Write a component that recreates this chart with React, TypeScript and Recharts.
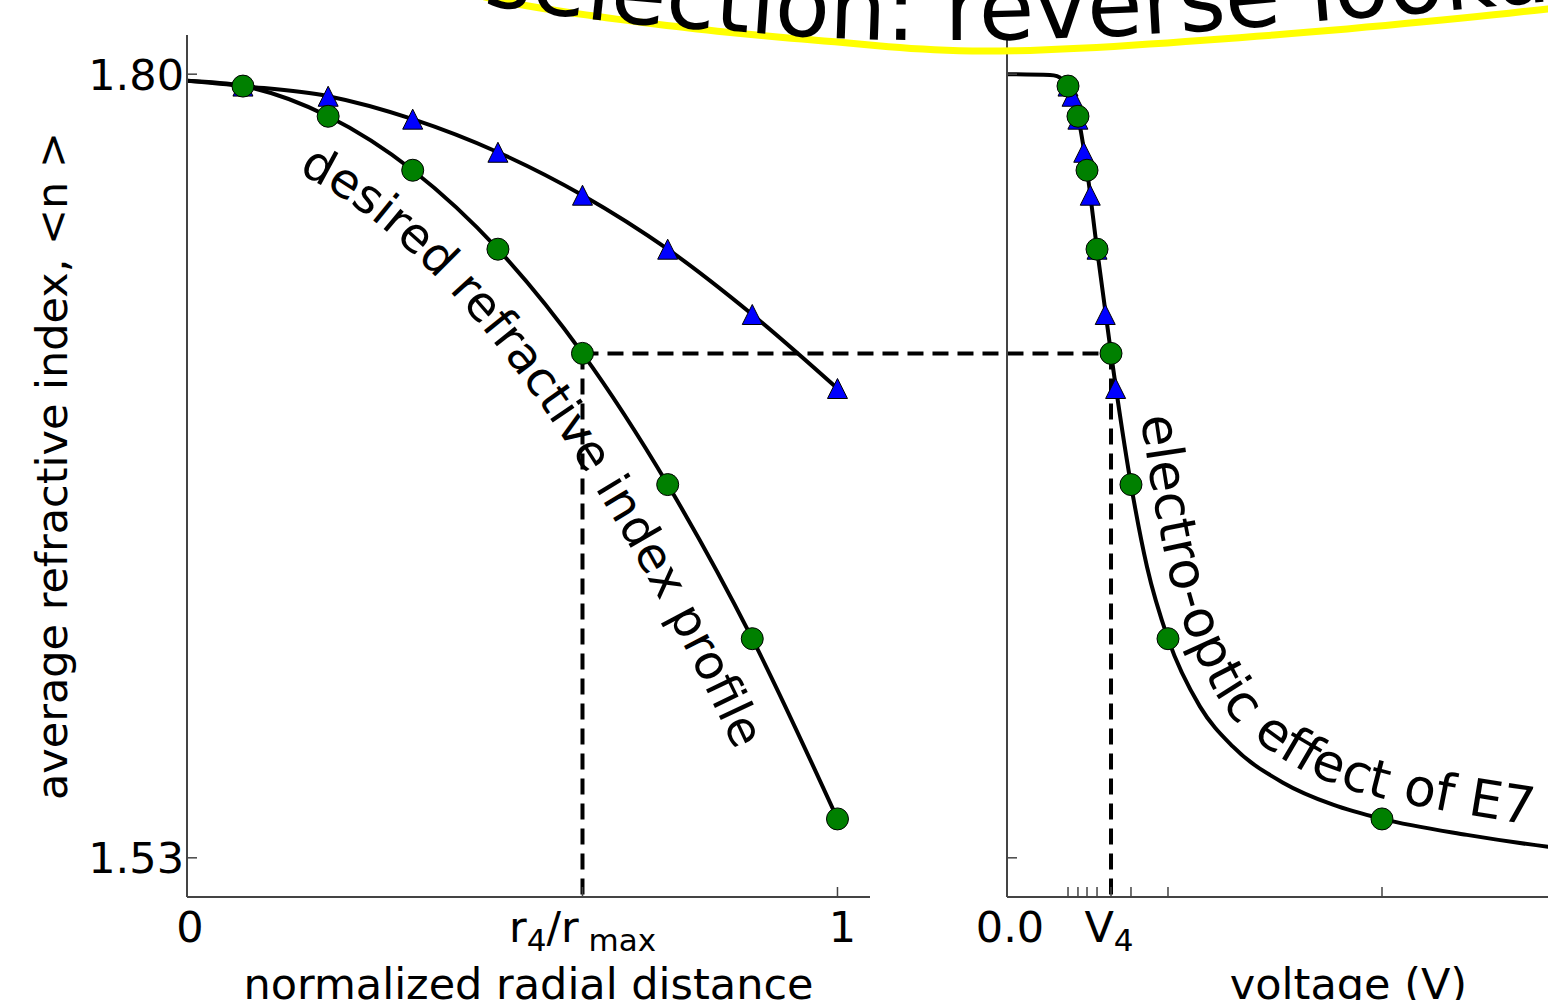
import React from 'react';
import { ComposedChart, Line, Scatter, XAxis, YAxis, ReferenceLine } from 'recharts';

// left panel: normalized radius of the sampled rings
const radius = [0.086, 0.217, 0.347, 0.478, 0.608, 0.739, 0.869, 1.0];
const desiredIndex = [1.7959, 1.7855, 1.7669, 1.7397, 1.7038, 1.6586, 1.6055, 1.5434];
const uniformIndex = [1.7959, 1.7924, 1.7845, 1.7731, 1.7583, 1.7397, 1.7172, 1.6917];
const centreIndex = 1.7977; // both profiles at r = 0

// right panel: E7 response and the voltages found by reverse lookup
const e7Volts = [0, 0.661, 0.769, 0.861, 0.938, 1.091, 1.23, 1.384, 1.599, 1.906, 2.152, 2.475, 2.967, 3.474, 4.243, 5.011, 5.765, 7.071, 8.317, 10];
const e7Index = [1.8, 1.7997, 1.7993, 1.7979, 1.7959, 1.7855, 1.7669, 1.7397, 1.7038, 1.6586, 1.6303, 1.6055, 1.5821, 1.5683, 1.5559, 1.5483, 1.5434, 1.5379, 1.5338, 1.53];
const voltsDesired = [0.938, 1.091, 1.23, 1.384, 1.599, 1.906, 2.475, 5.765];
const voltsUniform = [0.938, 1.0, 1.09, 1.18, 1.28, 1.384, 1.51, 1.67];

const yTicks = [1.53, 1.8];
const pick = 4; // ring r4 / voltage V4

const FONT = 'DejaVu Sans, sans-serif';
const AXIS = '#444';
const Y_DOMAIN: [number, number] = [1.5165, 1.8135];
const R_DOMAIN: [number, number] = [0, 1.05];
const V_DOMAIN: [number, number] = [0, 10.5];

// plot geometry (page pixels) used for the overlay annotations
const PLOT_TOP = 35;
const PLOT_H = 862;
const LEFT_X0 = 187;
const RIGHT_X0 = 1007;
const PLOT_W = 683;

const ny = (n: number) => PLOT_TOP + ((Y_DOMAIN[1] - n) / (Y_DOMAIN[1] - Y_DOMAIN[0])) * PLOT_H;
const lx = (r: number) => LEFT_X0 + (r / R_DOMAIN[1]) * PLOT_W;
const rx = (v: number) => RIGHT_X0 + (v / V_DOMAIN[1]) * PLOT_W;

type Pt = [number, number];

function smooth(pts: Pt[], steps = 16): Pt[] {
  const out: Pt[] = [];
  const f = (a: number, b: number, c: number, d: number, t: number) =>
    0.5 * (2 * b + (-a + c) * t + (2 * a - 5 * b + 4 * c - d) * t * t + (-a + 3 * b - 3 * c + d) * t * t * t);
  for (let i = 0; i < pts.length - 1; i++) {
    const p0 = pts[Math.max(i - 1, 0)], p1 = pts[i], p2 = pts[i + 1], p3 = pts[Math.min(i + 2, pts.length - 1)];
    for (let s = 0; s < steps; s++) {
      const t = s / steps;
      out.push([f(p0[0], p1[0], p2[0], p3[0], t), f(p0[1], p1[1], p2[1], p3[1], t)]);
    }
  }
  out.push(pts[pts.length - 1]);
  return out;
}

// move a polyline sideways, d > 0 = left of the travel direction
function shift(pts: Pt[], d: number): Pt[] {
  return pts.map((p, i) => {
    const a = pts[Math.max(i - 1, 0)], b = pts[Math.min(i + 1, pts.length - 1)];
    const tx = b[0] - a[0], ty = b[1] - a[1];
    const len = Math.hypot(tx, ty) || 1;
    return [p[0] + (d * ty) / len, p[1] - (d * tx) / len] as Pt;
  });
}

const toPath = (pts: Pt[]) => 'M' + pts.map((p) => `${p[0].toFixed(1)},${p[1].toFixed(1)}`).join(' L');

const desiredCurve = [{ x: 0, n: centreIndex }, ...radius.map((x, i) => ({ x, n: desiredIndex[i] }))];
const uniformCurve = [{ x: 0, n: centreIndex }, ...radius.map((x, i) => ({ x, n: uniformIndex[i] }))];
const desiredPts = radius.map((x, i) => ({ x, n: desiredIndex[i] }));
const uniformPts = radius.map((x, i) => ({ x, n: uniformIndex[i] }));

const e7Curve = e7Volts.map((x, i) => ({ x, n: e7Index[i] }));
const e7Desired = voltsDesired.map((x, i) => ({ x, n: desiredIndex[i] }));
const e7Uniform = voltsUniform.map((x, i) => ({ x, n: uniformIndex[i] }));

const r4 = radius[pick];
const n4 = desiredIndex[pick];
const V4 = voltsDesired[pick];
const v4InLeftUnits = ((rx(V4) - LEFT_X0) / PLOT_W) * R_DOMAIN[1];

const GreenDot = (p: any) => <circle cx={p.cx} cy={p.cy} r={11} fill="#008000" stroke="#000" strokeWidth={1} />;
const BlueTri = (p: any) => {
  const s = 10;
  return (
    <polygon
      points={`${p.cx},${p.cy - s} ${p.cx + s},${p.cy + s} ${p.cx - s},${p.cy + s}`}
      fill="#0000ff"
      stroke="#000"
      strokeWidth={1}
    />
  );
};

const YTick = (p: any) => (
  <g>
    <line x1={p.x} x2={p.x + 10} y1={p.y} y2={p.y} stroke={AXIS} strokeWidth={1.5} />
    {p.labels && (
      <text x={p.x - 3} y={p.y} dy="0.36em" textAnchor="end" fontSize={43} fontFamily={FONT} fill="#000">
        {p.payload.value.toFixed(2)}
      </text>
    )}
  </g>
);

const LeftXTick = (p: any) => {
  const v = p.payload.value;
  let label: React.ReactNode = null;
  if (v === 0) label = '0';
  else if (v === 1) label = '1';
  else
    label = (
      <>
        r<tspan dy={9} fontSize={31}>4</tspan>
        <tspan dy={-9}>/r</tspan>
        <tspan dy={9} fontSize={31}> max</tspan>
      </>
    );
  return (
    <g>
      <line x1={p.x} x2={p.x} y1={p.y} y2={p.y - 10} stroke={AXIS} strokeWidth={1.5} />
      <text x={p.x + (v === 0 ? 3 : v === 1 ? 5 : 0)} y={p.y + 45} textAnchor="middle" fontSize={43} fontFamily={FONT} fill="#000">
        {label}
      </text>
    </g>
  );
};

const RightXTick = (p: any) => {
  const v = p.payload.value;
  let label: React.ReactNode = null;
  if (v === 0) label = '0.0';
  else if (v === V4)
    label = (
      <>
        V<tspan dy={9} fontSize={31}>4</tspan>
      </>
    );
  return (
    <g>
      <line x1={p.x} x2={p.x} y1={p.y} y2={p.y - 10} stroke={AXIS} strokeWidth={1.5} />
      {label && (
        <text x={p.x + (v === 0 ? 3 : -2)} y={p.y + 45} textAnchor="middle" fontSize={43} fontFamily={FONT} fill="#000">
          {label}
        </text>
      )}
    </g>
  );
};

const dash = { stroke: '#000', strokeWidth: 4, strokeDasharray: '16 9' };

// title sits on a gentle arc, inside a yellow loop
const titleBase: Pt[] = [[465, 2], [565, 16], [650, 25], [730, 31], [815, 37], [900, 40], [980, 40], [1060, 38], [1150, 34], [1240, 28], [1330, 20], [1430, 12], [1530, 3], [1640, -7]];
const loop: Pt[] = [[430, -25], [497, 0], [647, 23], [813, 40], [1000, 51], [1274, 35], [1548, 9], [1620, -3]];

export default function App() {
  const desiredText = toPath(shift(smooth(desiredCurve.map((d) => [lx(d.x), ny(d.n)] as Pt)), -64));
  const e7Text = toPath(shift(smooth(e7Curve.slice(7).map((d) => [rx(d.x), ny(d.n)] as Pt)), 20));

  return (
    <div style={{ position: 'absolute', left: 0, top: 0, width: 1548, height: 1000, overflow: 'hidden', background: '#fff' }}>
      <div style={{ position: 'absolute', left: 0, top: 0 }}>
        <ComposedChart width={1548} height={1000} margin={{ top: 35, right: 678, bottom: 3, left: 0 }}>
          <XAxis
            type="number"
            dataKey="x"
            domain={R_DOMAIN}
            ticks={[0, r4, 1]}
            interval={0}
            tickSize={0}
            tickMargin={0}
            tickLine={false}
            height={100}
            allowDataOverflow
            axisLine={{ stroke: AXIS, strokeWidth: 2 }}
            tick={(p: any) => <LeftXTick {...p} />}
          />
          <YAxis
            type="number"
            domain={Y_DOMAIN}
            ticks={yTicks}
            interval={0}
            tickSize={0}
            tickMargin={0}
            tickLine={false}
            width={187}
            allowDataOverflow
            axisLine={{ stroke: AXIS, strokeWidth: 2 }}
            tick={(p: any) => <YTick {...p} labels />}
          />
          <ReferenceLine segment={[{ x: r4, y: n4 }, { x: v4InLeftUnits, y: n4 }]} ifOverflow="visible" {...dash} />
          <ReferenceLine segment={[{ x: r4, y: n4 }, { x: r4, y: Y_DOMAIN[0] }]} ifOverflow="visible" {...dash} />
          <Line data={uniformCurve} dataKey="n" type="monotone" stroke="#000" strokeWidth={4} dot={false} activeDot={false} isAnimationActive={false} />
          <Line data={desiredCurve} dataKey="n" type="monotone" stroke="#000" strokeWidth={4} dot={false} activeDot={false} isAnimationActive={false} />
          <Scatter data={uniformPts} dataKey="n" shape={BlueTri} isAnimationActive={false} />
          <Scatter data={desiredPts} dataKey="n" shape={GreenDot} isAnimationActive={false} />
        </ComposedChart>
      </div>

      <div style={{ position: 'absolute', left: 900, top: 0 }}>
        <ComposedChart width={900} height={1000} margin={{ top: 35, right: 110, bottom: 3, left: 0 }}>
          <XAxis
            type="number"
            dataKey="x"
            domain={V_DOMAIN}
            ticks={[0, ...voltsDesired]}
            interval={0}
            tickSize={0}
            tickMargin={0}
            tickLine={false}
            height={100}
            allowDataOverflow
            axisLine={{ stroke: AXIS, strokeWidth: 2 }}
            tick={(p: any) => <RightXTick {...p} />}
          />
          <YAxis
            type="number"
            domain={Y_DOMAIN}
            ticks={yTicks}
            interval={0}
            tickSize={0}
            tickMargin={0}
            tickLine={false}
            width={107}
            allowDataOverflow
            axisLine={{ stroke: AXIS, strokeWidth: 2 }}
            tick={(p: any) => <YTick {...p} />}
          />
          <ReferenceLine segment={[{ x: V4, y: n4 }, { x: V4, y: Y_DOMAIN[0] }]} ifOverflow="visible" {...dash} />
          <Line data={e7Curve} dataKey="n" type="monotone" stroke="#000" strokeWidth={4} dot={false} activeDot={false} isAnimationActive={false} />
          <Scatter data={e7Uniform} dataKey="n" shape={BlueTri} isAnimationActive={false} />
          <Scatter data={e7Desired} dataKey="n" shape={GreenDot} isAnimationActive={false} />
        </ComposedChart>
      </div>

      <svg width={1548} height={1000} style={{ position: 'absolute', left: 0, top: 0, pointerEvents: 'none' }} fontFamily={FONT}>
        <defs>
          <path id="titleArc" d={toPath(smooth(titleBase, 10))} />
          <path id="desiredArc" d={desiredText} />
          <path id="e7Arc" d={e7Text} />
        </defs>
        <path d={toPath(smooth(loop, 16))} fill="none" stroke="#ffff00" strokeWidth={7} />
        <text fontSize={90} fill="#000">
          <textPath href="#titleArc" startOffset={18}>selection: reverse lookup</textPath>
        </text>
        <text fontSize={48} fill="#000">
          <textPath href="#desiredArc" startOffset={120}>desired refractive index profile</textPath>
        </text>
        <text fontSize={52} fill="#000">
          <textPath href="#e7Arc" startOffset={172}>electro-optic effect of E7</textPath>
        </text>
        <text x={67} y={466} transform="rotate(-90 67 466)" textAnchor="middle" fontSize={43} fill="#000">
          average refractive index,  &lt;n &gt;
        </text>
        <text x={(LEFT_X0 + LEFT_X0 + PLOT_W) / 2} y={999} textAnchor="middle" fontSize={43} fill="#000">
          normalized radial distance
        </text>
        <text x={(RIGHT_X0 + RIGHT_X0 + PLOT_W) / 2} y={999} textAnchor="middle" fontSize={43} fill="#000">
          voltage (V)
        </text>
      </svg>
    </div>
  );
}
